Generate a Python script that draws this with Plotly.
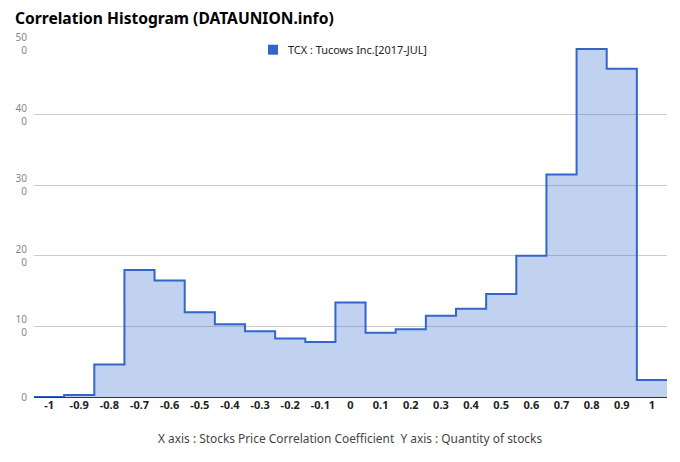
import plotly.graph_objects as go

# ---- data ----
bin_centers = [-1.0, -0.9, -0.8, -0.7, -0.6, -0.5, -0.4, -0.3, -0.2, -0.1, 0.0,
               0.1, 0.2, 0.3, 0.4, 0.5, 0.6, 0.7, 0.8, 0.9, 1.0]
counts = [0, 3, 46, 180, 165, 120, 103, 93, 83, 78, 134,
          91, 96, 115, 125, 146, 200, 315, 493, 465, 24]
x_tick_vals = [-1.0, -0.9, -0.8, -0.7, -0.6, -0.5, -0.4, -0.3, -0.2, -0.1, 0.0,
               0.1, 0.2, 0.3, 0.4, 0.5, 0.6, 0.7, 0.8, 0.9, 1.0]
x_tick_text = ["-1", "-0.9", "-0.8", "-0.7", "-0.6", "-0.5", "-0.4", "-0.3", "-0.2", "-0.1", "0",
               "0.1", "0.2", "0.3", "0.4", "0.5", "0.6", "0.7", "0.8", "0.9", "1"]
y_tick_vals = [0, 100, 200, 300, 400, 500]
y_tick_text = ["0", "10<br>0", "20<br>0", "30<br>0", "40<br>0", "50<br>0"]
series_name = "TCX : Tucows Inc.[2017-JUL]"
title_text = "Correlation Histogram (DATAUNION.info)"
axis_caption = "X axis : Stocks Price Correlation Coefficient  Y axis : Quantity of stocks"

# step edges derived from bin centres (bin width 0.1)
half = 0.05
step_x = [round(c - half, 4) for c in bin_centers] + [round(bin_centers[-1] + half, 4)]
step_y = counts + [counts[-1]]

LINE = "#3366cc"
FONT = "Noto Sans"
PW, PH = 633, 352.5

fig = go.Figure()
fig.add_trace(go.Scatter(
    x=step_x, y=step_y, mode="lines", line=dict(color=LINE, width=2, shape="hv"),
    fill="tozeroy", fillcolor="rgba(51,102,204,0.3)", showlegend=False,
    hoverinfo="skip",
))

fig.update_layout(
    width=680, height=462,
    margin=dict(l=34, r=13, t=44, b=65, autoexpand=False),
    paper_bgcolor="white", plot_bgcolor="white",
    font=dict(family=FONT),
    showlegend=False,
    xaxis=dict(range=[-1.05, 1.05], tickvals=x_tick_vals, ticktext=x_tick_text,
               showgrid=False, zeroline=False, showline=False, ticks="", automargin=False,
               tickfont=dict(size=11, color="#222222", weight="bold", family=FONT)),
    yaxis=dict(range=[0, 500], tickvals=y_tick_vals, ticktext=y_tick_text,
               showgrid=True, gridcolor="#cccccc", gridwidth=1, automargin=False,
               zeroline=True, zerolinecolor="#333333", zerolinewidth=1,
               ticks="", ticklabelstandoff=6,
               tickfont=dict(size=10, color="#888888", family=FONT)),
)

# title
fig.add_annotation(text="<b>" + title_text + "</b>", xref="paper", yref="paper",
                   x=-(34-13)/PW, y=1 + 26/PH, xanchor="left", yanchor="middle",
                   showarrow=False, font=dict(size=15.6, color="#000000", family=FONT))

# legend (custom)
fig.add_shape(type="rect", xref="paper", yref="paper",
              x0=(268-34)/PW, x1=(278-34)/PW, y0=1 - (55-44.3)/PH, y1=1 - (45-44.3)/PH,
              fillcolor=LINE, line=dict(width=0))
fig.add_annotation(text=series_name, xref="paper", yref="paper",
                   x=(286-34)/PW, y=1 - (50-44.3)/PH, xanchor="left", yanchor="middle",
                   showarrow=False, font=dict(size=10.9, color="#222222", family=FONT))

# axis caption
fig.add_annotation(text=axis_caption, xref="paper", yref="paper",
                   x=(350-34)/PW, y=-(438-396.8)/PH, xanchor="center", yanchor="middle",
                   showarrow=False, font=dict(size=11.9, color="#444444", family=FONT))

fig.write_html("out.html", config={"displayModeBar": False},
               post_script="document.body.style.margin='0';")
